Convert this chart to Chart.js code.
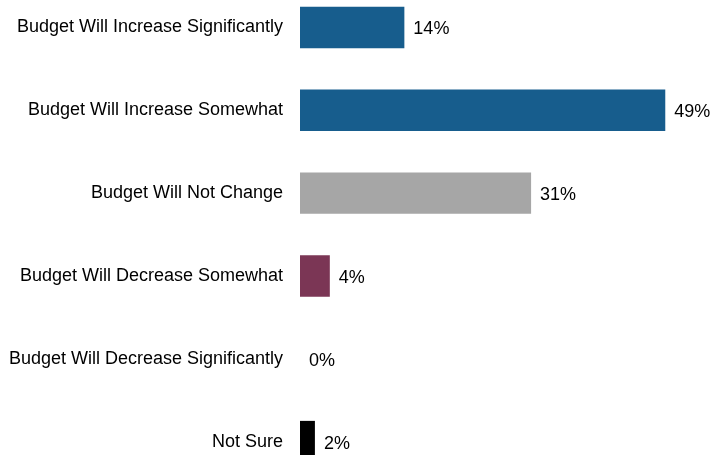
<!DOCTYPE html>
<html>
<head>
<meta charset="utf-8">
<script src="https://cdn.jsdelivr.net/npm/chart.js@4/dist/chart.umd.min.js"></script>
<style>
  html, body { margin: 0; padding: 0; background: #ffffff; overflow: hidden; width: 712px; height: 455px; position: relative; }
  #chart { position: absolute; left: 0; top: -14px; width: 712px; height: 497px; }
</style>
</head>
<body>
<canvas id="chart" width="712" height="497"></canvas>
<script>
// Survey responses on next year's budget outlook
const categories = [
  'Budget Will Increase Significantly',
  'Budget Will Increase Somewhat',
  'Budget Will Not Change',
  'Budget Will Decrease Somewhat',
  'Budget Will Decrease Significantly',
  'Not Sure'
];
const shares = [14, 49, 31, 4, 0, 2];
const barColors = ['#175D8D', '#175D8D', '#A6A6A6', '#7B3655', '#7B3655', '#000000'];

const FONT = '"Liberation Sans", Arial, sans-serif';

// Writes each bar's percentage just past its end
const valueLabels = {
  id: 'valueLabels',
  afterDatasetsDraw(chart) {
    const ctx = chart.ctx;
    const meta = chart.getDatasetMeta(0);
    ctx.save();
    ctx.font = '18px ' + FONT;
    ctx.fillStyle = '#000000';
    ctx.textAlign = 'left';
    ctx.textBaseline = 'middle';
    meta.data.forEach((bar, i) => {
      ctx.fillText(shares[i] + '%', bar.x + 9, bar.y + 2);
    });
    ctx.restore();
  }
};

new Chart(document.getElementById('chart'), {
  type: 'bar',
  data: {
    labels: categories,
    datasets: [{
      data: shares,
      backgroundColor: barColors,
      borderWidth: 0,
      categoryPercentage: 1.0,
      barPercentage: 0.5,
      clip: false
    }]
  },
  options: {
    indexAxis: 'y',
    responsive: false,
    animation: false,
    devicePixelRatio: 1,
    layout: { padding: { left: 0, right: 2, top: 0, bottom: 0 } },
    plugins: {
      legend: { display: false },
      tooltip: { enabled: false }
    },
    scales: {
      x: {
        display: false,
        min: 0,
        max: 55
      },
      y: {
        afterFit(scale) {
          scale.width = 300;
          scale.paddingTop = 0;
          scale.paddingBottom = 0;
        },
        grid: { display: false, drawTicks: false },
        border: { display: false },
        ticks: {
          color: '#000000',
          padding: 17,
          font: { family: FONT, size: 18 }
        }
      }
    }
  },
  plugins: [valueLabels]
});
</script>
</body>
</html>
